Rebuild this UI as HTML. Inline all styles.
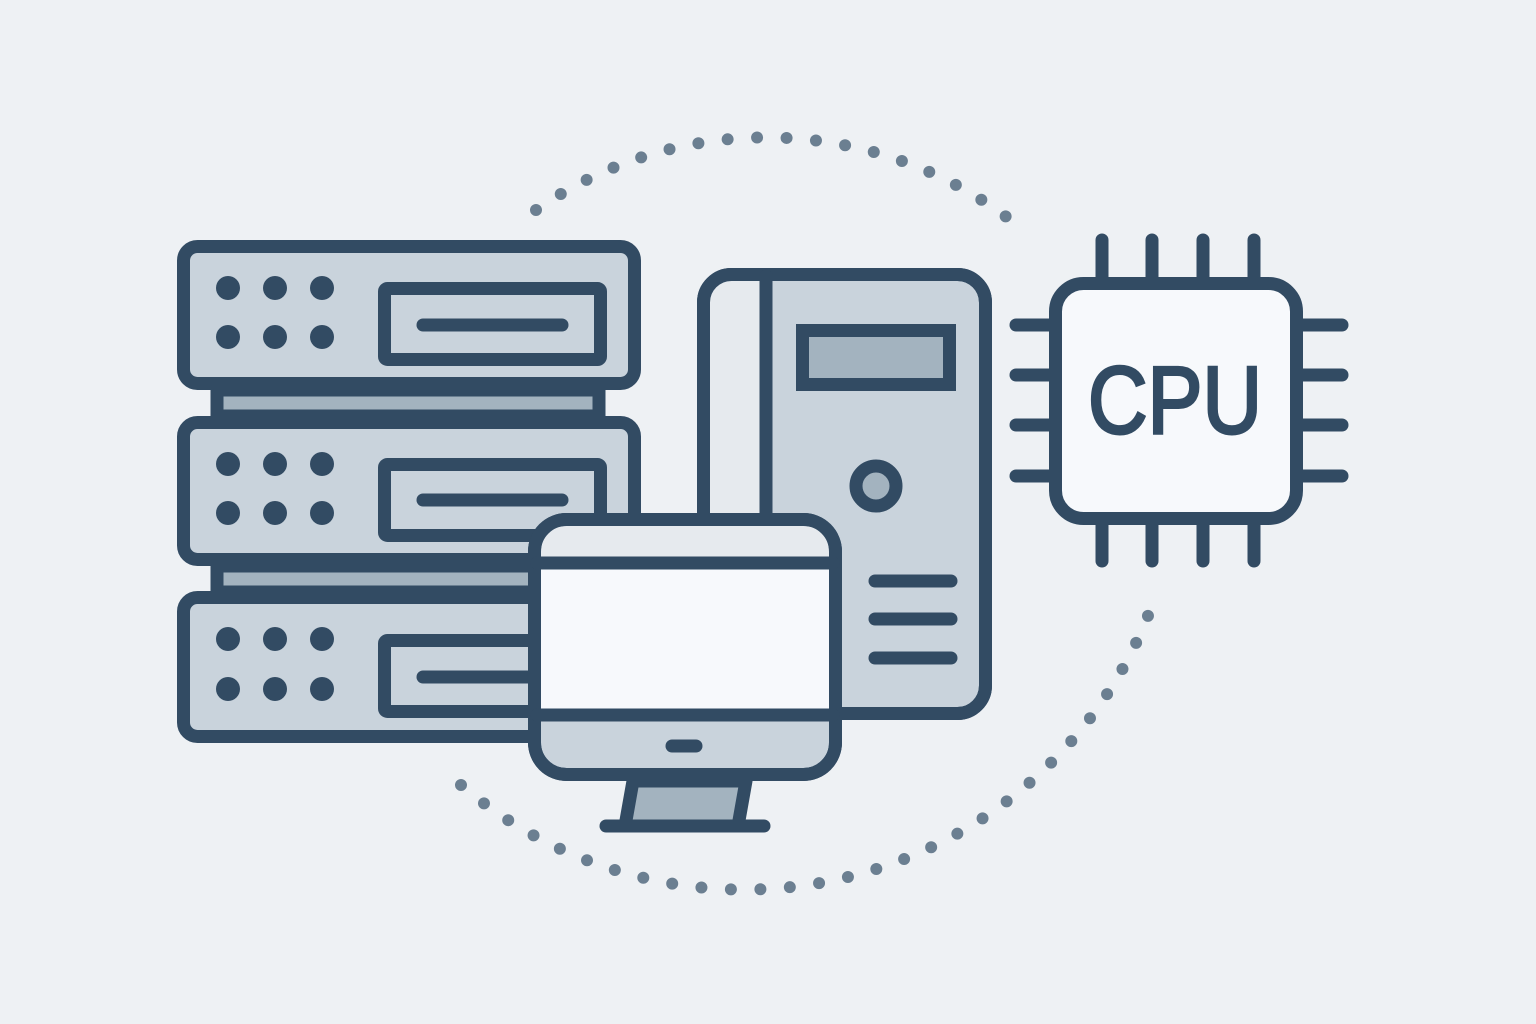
<!DOCTYPE html>
<html><head><meta charset="utf-8"><style>html,body{margin:0;padding:0;background:#eef1f4}svg{display:block}</style></head>
<body>
<svg width="1536" height="1024" viewBox="0 0 1536 1024" xmlns="http://www.w3.org/2000/svg">
<rect width="1536" height="1024" fill="#eef1f4"/>
<g fill="none" stroke="#6b7f91" stroke-width="12" stroke-linecap="round" stroke-dasharray="0 29.5">
<path d="M536 210 A402 402 0 0 1 1023 230"/>
<path d="M461 785 A435 435 0 0 0 1155 597"/>
</g>
<g stroke="#324b63" stroke-width="13" stroke-linecap="round" stroke-linejoin="round">
<!-- server connectors -->
<rect x="217" y="390" width="382" height="26" fill="#a3b3bf"/>
<rect x="217" y="566" width="382" height="26" fill="#a3b3bf"/>
<!-- server units -->
<rect x="183.5" y="246.5" width="451" height="137" rx="14" fill="#c9d3dc"/>
<rect x="183.5" y="422.5" width="451" height="137" rx="14" fill="#c9d3dc"/>
<rect x="183.5" y="597.5" width="451" height="139" rx="14" fill="#c9d3dc"/>
<rect x="384.5" y="288.5" width="216" height="71" rx="3" fill="#c9d3dc"/>
<rect x="384.5" y="464.5" width="216" height="71" rx="3" fill="#c9d3dc"/>
<rect x="384.5" y="640.5" width="216" height="71" rx="3" fill="#c9d3dc"/>
<line x1="423" y1="325" x2="562" y2="325"/>
<line x1="423" y1="500" x2="562" y2="500"/>
<line x1="423" y1="677" x2="562" y2="677"/>
</g>
<g fill="#324b63">
<circle cx="228" cy="288" r="12"/><circle cx="275" cy="288" r="12"/><circle cx="322" cy="288" r="12"/>
<circle cx="228" cy="337" r="12"/><circle cx="275" cy="337" r="12"/><circle cx="322" cy="337" r="12"/>
<circle cx="228" cy="464" r="12"/><circle cx="275" cy="464" r="12"/><circle cx="322" cy="464" r="12"/>
<circle cx="228" cy="513" r="12"/><circle cx="275" cy="513" r="12"/><circle cx="322" cy="513" r="12"/>
<circle cx="228" cy="639" r="12"/><circle cx="275" cy="639" r="12"/><circle cx="322" cy="639" r="12"/>
<circle cx="228" cy="689" r="12"/><circle cx="275" cy="689" r="12"/><circle cx="322" cy="689" r="12"/>
</g>
<g stroke="#324b63" stroke-width="13" stroke-linecap="round" stroke-linejoin="round">
<!-- tower -->
<rect x="703.5" y="274.5" width="282" height="439" rx="28" fill="#c9d3dc"/>
<path d="M766 276 L766 712" />
<path d="M710 300 Q710 281 730 281 L760 281 L760 707 L710 707 Z" fill="#e6eaee" stroke="none"/>
<rect x="703.5" y="274.5" width="282" height="439" rx="28" fill="none"/>
<line x1="766" y1="276" x2="766" y2="712"/>
<rect x="802.5" y="330.5" width="147" height="54" fill="#a3b3bf" stroke-linecap="butt" stroke-linejoin="miter"/>
<circle cx="876" cy="486" r="20" fill="#a3b3bf"/>
<line x1="875" y1="581" x2="951" y2="581"/>
<line x1="875" y1="619" x2="951" y2="619"/>
<line x1="875" y1="658" x2="951" y2="658"/>
<!-- monitor -->
<path d="M633 781 L746 781 L738 826 L625 826 Z" fill="#a3b3bf"/>
<line x1="606" y1="826" x2="764" y2="826"/>
<rect x="534.5" y="519.5" width="301" height="255" rx="32" fill="#c9d3dc"/>
<path d="M541 563 L541 553 Q541 526 568 526 L802 526 Q829 526 829 553 L829 563 Z" fill="#e6eaee" stroke="none"/>
<rect x="541" y="563" width="288" height="152" fill="#f7f9fc" stroke="none"/>
<rect x="534.5" y="519.5" width="301" height="255" rx="32" fill="none"/>
<line x1="537" y1="563" x2="833" y2="563"/>
<line x1="537" y1="715" x2="833" y2="715"/>
<line x1="672" y1="746" x2="696" y2="746"/>
<!-- CPU pins -->
<line x1="1102" y1="240" x2="1102" y2="280"/><line x1="1152" y1="240" x2="1152" y2="280"/>
<line x1="1203" y1="240" x2="1203" y2="280"/><line x1="1254" y1="240" x2="1254" y2="280"/>
<line x1="1102" y1="520" x2="1102" y2="561"/><line x1="1152" y1="520" x2="1152" y2="561"/>
<line x1="1203" y1="520" x2="1203" y2="561"/><line x1="1254" y1="520" x2="1254" y2="561"/>
<line x1="1016" y1="325" x2="1052" y2="325"/><line x1="1016" y1="375" x2="1052" y2="375"/>
<line x1="1016" y1="425" x2="1052" y2="425"/><line x1="1016" y1="476" x2="1052" y2="476"/>
<line x1="1300" y1="325" x2="1342" y2="325"/><line x1="1300" y1="375" x2="1342" y2="375"/>
<line x1="1300" y1="425" x2="1342" y2="425"/><line x1="1300" y1="476" x2="1342" y2="476"/>
<rect x="1055.5" y="283.5" width="241" height="235" rx="28" fill="#f7f9fc"/>
</g>
<text x="1175" y="433" text-anchor="middle" font-family="Liberation Sans, sans-serif" font-size="96" fill="#324b63" stroke="#324b63" stroke-width="3" textLength="174" lengthAdjust="spacingAndGlyphs">CPU</text>
</svg>
</body></html>
